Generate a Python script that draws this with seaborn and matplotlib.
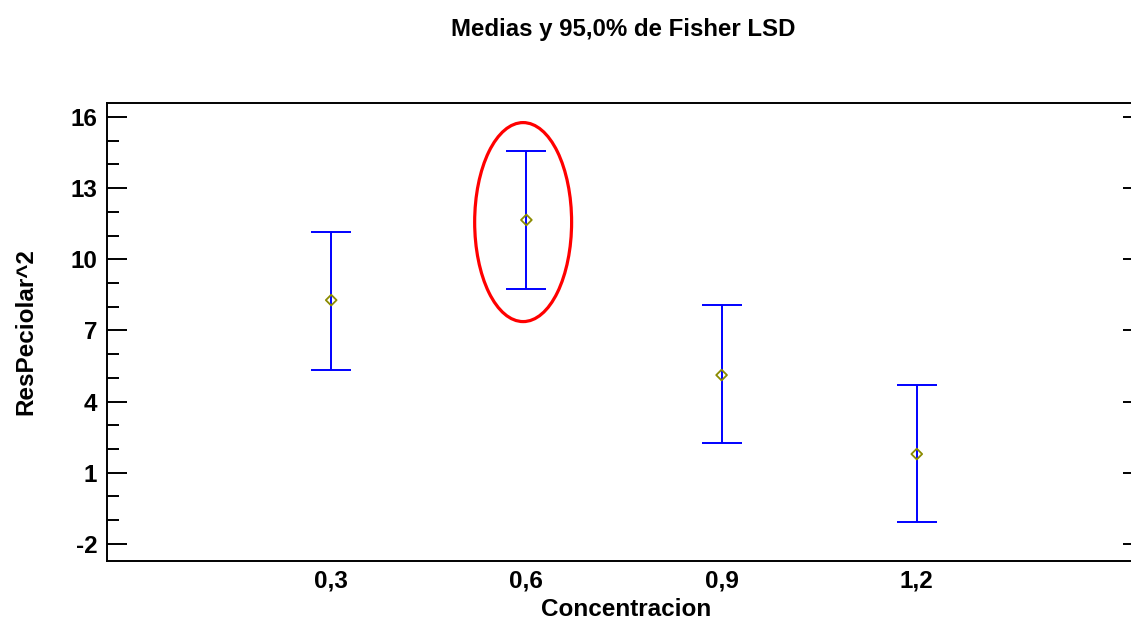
import matplotlib
matplotlib.use("Agg")
import matplotlib.pyplot as plt
import seaborn as sns
import pandas as pd
from matplotlib.patches import Ellipse

concentracion = [0.3, 0.6, 0.9, 1.2]
x_labels = ["0,3", "0,6", "0,9", "1,2"]
medias = [8.28, 11.66, 5.12, 1.79]
lim_inf = [5.33, 8.75, 2.26, -1.07]
lim_sup = [11.15, 14.57, 8.07, 4.70]
y_ticks = [-2, 1, 4, 7, 10, 13, 16]

sns.set_theme(style="ticks")
plt.rcParams['font.family'] = ['Liberation Sans', 'DejaVu Sans']
plt.rcParams['axes.unicode_minus'] = False
plt.rcParams['text.color'] = 'black'
plt.rcParams['axes.labelcolor'] = 'black'
plt.rcParams['xtick.color'] = 'black'
plt.rcParams['ytick.color'] = 'black'

df = pd.DataFrame({"Concentracion": concentracion, "Media": medias,
                   "Inf": lim_inf, "Sup": lim_sup})

fig = plt.figure(figsize=(11.31, 6.21), dpi=100)
ax = fig.add_axes([0.0946, 0.0966, 0.9064, 0.7375])

yerr = [[m - l for m, l in zip(medias, lim_inf)],
        [u - m for m, u in zip(medias, lim_sup)]]
ax.errorbar(df["Concentracion"], df["Media"], yerr=yerr, fmt="none",
            ecolor="#0000FF", elinewidth=1.4, capsize=14.4, capthick=1.4, zorder=2)
sns.scatterplot(data=df, x="Concentracion", y="Media", ax=ax, marker="D",
                s=30, facecolor="none", edgecolor="#8B8B00", linewidth=1.3,
                zorder=3)

ell = Ellipse((0.595, 11.57), width=0.149, height=8.39, fill=False,
              edgecolor="#FF0000", linewidth=2.3, zorder=4)
ax.add_patch(ell)

ax.set_xlim(-0.0446, 1.531)
ax.set_ylim(-2.72, 16.59)
ax.set_xticks(concentracion)
ax.set_xticklabels(x_labels, fontsize=17.5, fontweight="bold")
ax.tick_params(axis="x", length=0, pad=6)
ax.set_yticks(y_ticks)
ax.set_yticklabels([str(v) for v in y_ticks], fontsize=17.5, fontweight="bold")
ax.set_yticks(list(range(-2, 17)), minor=True)
ax.tick_params(axis="y", which="major", direction="in", length=14.4, width=1.4,
               left=True, right=False, pad=7)
ax.tick_params(axis="y", which="minor", direction="in", length=8.6, width=1.4,
               left=True, right=False)
for s in ax.spines.values():
    s.set_linewidth(1.4)
    s.set_color("black")

ax2 = ax.twinx()
ax2.set_ylim(ax.get_ylim())
ax2.set_yticks(y_ticks)
ax2.set_yticklabels([])
ax2.tick_params(axis="y", which="major", direction="in", length=6.5, width=1.4,
                right=True, left=False)
for s in ax2.spines.values():
    s.set_visible(False)

ax.set_xlabel("Concentracion", fontsize=17.5, fontweight="bold", labelpad=4)
ax.xaxis.label.set_x(0.506)
ax.set_ylabel("ResPeciolar^2", fontsize=17.5, fontweight="bold", labelpad=24)
fig.text(0.551, 0.953, "Medias y 95,0% de Fisher LSD", ha="center", va="center",
         fontsize=17.3, fontweight="bold")

fig.savefig("out.png", dpi=100)
